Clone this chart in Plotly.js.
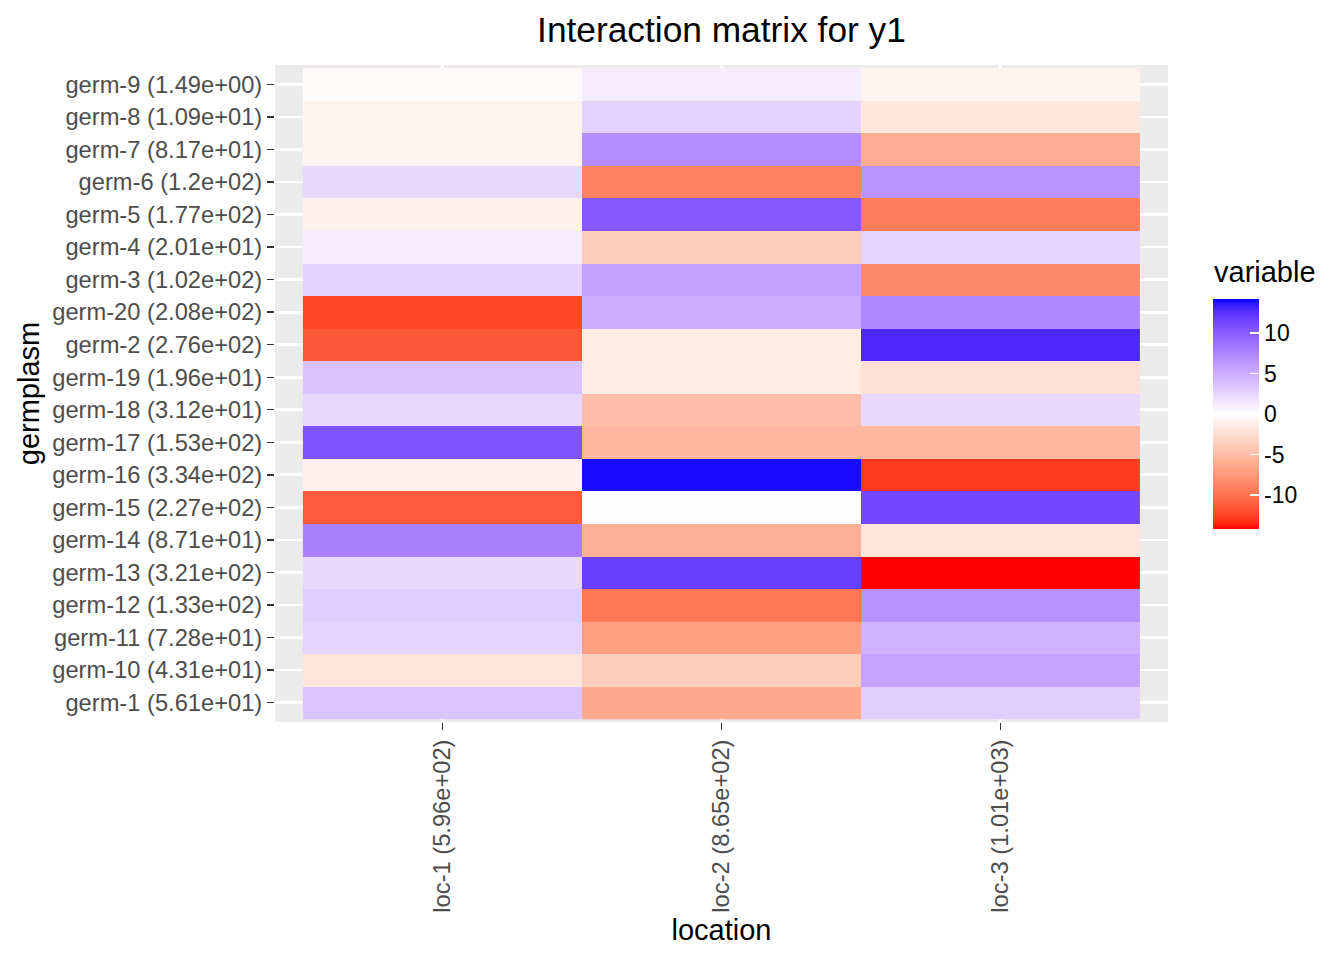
<!DOCTYPE html>
<html>
<head>
<meta charset="utf-8">
<script src="https://cdn.plot.ly/plotly-3.0.1.min.js"></script>
<style>
  body { margin: 0; background: #fff; }
  #chart { width: 1344px; height: 960px; }
</style>
</head>
<body>
<div id="chart"></div>
<script>
// categories (bottom to top, as in the factor order)
const locations = ["loc-1 (5.96e+02)", "loc-2 (8.65e+02)", "loc-3 (1.01e+03)"];
const germplasm = [
  "germ-1 (5.61e+01)", "germ-10 (4.31e+01)", "germ-11 (7.28e+01)", "germ-12 (1.33e+02)",
  "germ-13 (3.21e+02)", "germ-14 (8.71e+01)", "germ-15 (2.27e+02)", "germ-16 (3.34e+02)",
  "germ-17 (1.53e+02)", "germ-18 (3.12e+01)", "germ-19 (1.96e+01)", "germ-2 (2.76e+02)",
  "germ-20 (2.08e+02)", "germ-3 (1.02e+02)", "germ-4 (2.01e+01)", "germ-5 (1.77e+02)",
  "germ-6 (1.2e+02)", "germ-7 (8.17e+01)", "germ-8 (1.09e+01)", "germ-9 (1.49e+00)"
];

// interaction values per location, same order as germplasm
const loc1 = [3.5, -1.9, 2.6, 3.0, 2.3, 7.8, -11.4, -1.0, 10.6, 2.4, 3.7, -11.5, -12.3, 2.7, 1.1, -1.0, 2.4, -0.9, -0.9, -0.3];
const loc2 = [-6.4, -3.7, -7.1, -9.7, 11.8, -5.9, 0.2, 13.9, -5.3, -4.8, -1.4, -1.4, 5.0, 5.7, -3.7, 10.2, -9.0, 7.0, 2.7, 1.1];
const loc3 = [2.9, 5.6, 4.6, 6.7, -14.2, -1.9, 11.2, -12.9, -5.3, 2.4, -2.3, 12.9, 7.3, -8.4, 2.6, -9.2, 6.6, -6.1, -1.8, -0.8];

const limit = 14.2;
const legendTicks = [-10, -5, 0, 5, 10];
const legendLabels = ["-10", "-5", "0", "5", "10"];

// ggplot's gradient2 blends in Lab space, so build the scale that way
function toLin(c) { c /= 255; return c <= 0.04045 ? c / 12.92 : Math.pow((c + 0.055) / 1.055, 2.4); }
function fromLin(c) {
  c = Math.min(1, Math.max(0, c));
  return Math.round(255 * (c <= 0.0031308 ? 12.92 * c : 1.055 * Math.pow(c, 1 / 2.4) - 0.055));
}
function rgb2lab(rgb) {
  const [r, g, b] = rgb.map(toLin);
  const X = (0.4124 * r + 0.3576 * g + 0.1805 * b) / 0.95047;
  const Y = 0.2126 * r + 0.7152 * g + 0.0722 * b;
  const Z = (0.0193 * r + 0.1192 * g + 0.9505 * b) / 1.08883;
  const f = t => t > 0.008856 ? Math.cbrt(t) : 7.787 * t + 16 / 116;
  return [116 * f(Y) - 16, 500 * (f(X) - f(Y)), 200 * (f(Y) - f(Z))];
}
function lab2rgb(lab) {
  const fy = (lab[0] + 16) / 116, fx = fy + lab[1] / 500, fz = fy - lab[2] / 200;
  const inv = t => t * t * t > 0.008856 ? t * t * t : (t - 16 / 116) / 7.787;
  const X = inv(fx) * 0.95047, Y = inv(fy), Z = inv(fz) * 1.08883;
  const r = 3.2406 * X - 1.5372 * Y - 0.4986 * Z;
  const g = -0.9689 * X + 1.8758 * Y + 0.0415 * Z;
  const b = 0.0557 * X - 0.2040 * Y + 1.0570 * Z;
  return "rgb(" + [r, g, b].map(fromLin).join(",") + ")";
}
const red = rgb2lab([255, 0, 0]), white = rgb2lab([255, 255, 255]), blue = rgb2lab([0, 0, 255]);
const colorscale = [];
for (let i = 0; i <= 40; i++) {
  const p = i / 40;
  let a, b, t;
  if (p <= 0.5) { a = red; b = white; t = p / 0.5; } else { a = white; b = blue; t = (p - 0.5) / 0.5; }
  colorscale.push([p, lab2rgb(a.map((v, k) => v + (b[k] - v) * t))]);
}

const z = germplasm.map((g, i) => [loc1[i], loc2[i], loc3[i]]);

const font = "Liberation Sans, Arial, Helvetica, sans-serif";
// plot area: x 275..1168, y 64.5..722.5 px
const plotH = 658;

Plotly.newPlot("chart", [{
  type: "heatmap",
  x: locations,
  y: germplasm,
  z: z,
  zmin: -limit,
  zmax: limit,
  colorscale: colorscale,
  hoverinfo: "skip",
  colorbar: {
    thickness: 46, thicknessmode: "pixels",
    len: 230, lenmode: "pixels",
    x: 1213 / 1344, xref: "container", xanchor: "left", xpad: 0,
    y: (722.5 - 414) / plotH, yref: "paper", yanchor: "middle", ypad: 0,
    outlinewidth: 0,
    tickvals: legendTicks,
    ticktext: legendLabels,
    ticks: "inside", ticklen: 9, tickwidth: 1.4, tickcolor: "white",
    tickfont: { family: font, size: 23, color: "#000" }
  }
}], {
  width: 1344,
  height: 960,
  margin: { l: 275, r: 176, t: 64.5, b: 237.5 },
  paper_bgcolor: "#fff",
  plot_bgcolor: "#EBEBEB",
  font: { family: font },
  title: {
    text: "Interaction matrix for y1",
    x: 0.5, xref: "paper", xanchor: "center",
    y: 1 - 30 / 960, yref: "container", yanchor: "middle",
    font: { family: font, size: 35.3, color: "#000" }
  },
  annotations: [{
    text: "variable",
    xref: "paper", yref: "paper",
    x: (1212 - 275) / 893, y: (722.5 - 272) / plotH,
    xanchor: "left", yanchor: "middle",
    showarrow: false,
    font: { family: font, size: 29, color: "#000" }
  }],
  xaxis: {
    type: "category",
    categoryarray: locations,
    range: [-0.6, 2.6],
    tickangle: -90,
    ticks: "outside", ticklen: 7, tickwidth: 1.4, tickcolor: "#333333",
    tickfont: { family: font, size: 23.7, color: "#4D4D4D" },
    showgrid: true, gridcolor: "#fff", gridwidth: 2.7,
    zeroline: false, showline: false,
    title: { text: "location", font: { family: font, size: 29, color: "#000" }, standoff: 8 }
  },
  yaxis: {
    type: "category",
    categoryarray: germplasm,
    range: [-0.6, 19.6],
    ticks: "outside", ticklen: 7, tickwidth: 1.4, tickcolor: "#333333",
    tickfont: { family: font, size: 23.7, color: "#4D4D4D" },
    showgrid: true, gridcolor: "#fff", gridwidth: 2.7,
    zeroline: false, showline: false,
    title: { text: "germplasm", font: { family: font, size: 29, color: "#000" }, standoff: 4 }
  }
}, { staticPlot: true });
</script>
</body>
</html>
